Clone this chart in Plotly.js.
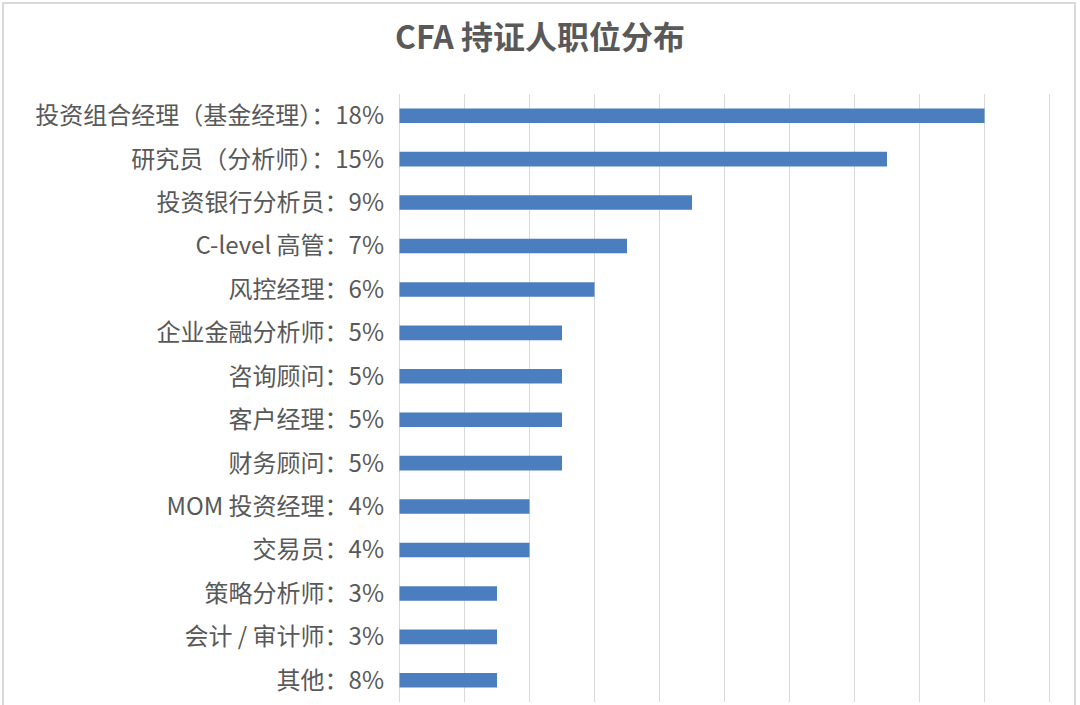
<!DOCTYPE html>
<html>
<head>
<meta charset="utf-8">
<script src="https://cdn.plot.ly/plotly-3.0.1.min.js"></script>
<style>
  body { margin: 0; background: #fff; }
  #frame {
    position: absolute; left: 2px; top: 2px; width: 1074px; height: 720px;
    border: 2px solid #d9d9d9; border-bottom: none; box-sizing: border-box;
  }
  #chart { position: absolute; left: 0; top: 0; width: 1080px; height: 705px; }
</style>
</head>
<body>
<div id="frame"></div>
<div id="chart"></div>
<script>
// job titles of CFA charterholders, label text as printed on the chart
let roles = [
  "投资组合经理（基金经理）：18%",
  "研究员（分析师）：15%",
  "投资银行分析员：9%",
  "C-level 高管：7%",
  "风控经理：6%",
  "企业金融分析师：5%",
  "咨询顾问：5%",
  "客户经理：5%",
  "财务顾问：5%",
  "MOM 投资经理：4%",
  "交易员：4%",
  "策略分析师：3%",
  "会计 / 审计师：3%",
  "其他：8%"
];
// bar lengths as drawn (percent)
let shares = [18, 15, 9, 7, 6, 5, 5, 5, 5, 4, 4, 3, 3, 3];

let font = '"Noto Sans CJK SC", "Noto Sans", sans-serif';

// a little slack on both ends so the 0 and 20 gridlines get drawn
let pad = 0.2;

let layout = {
  width: 1080,
  height: 705,
  margin: { l: 392.5, r: 23.5, t: 94, b: 3, pad: 0 },
  paper_bgcolor: "rgba(0,0,0,0)",
  plot_bgcolor: "rgba(0,0,0,0)",
  showlegend: false,
  title: {
    text: "<b>CFA 持证人职位分布</b>",
    font: { family: font, size: 32, color: "#595959" },
    x: 0.5,
    xanchor: "center",
    y: 0.947,
    yanchor: "middle"
  },
  xaxis: {
    range: [-pad, 20 + pad],
    dtick: 2,
    tick0: 0,
    showgrid: true,
    gridcolor: "#d9d9d9",
    gridwidth: 1.5,
    zeroline: false,
    showticklabels: false,
    showline: false,
    fixedrange: true
  },
  yaxis: {
    type: "category",
    autorange: "reversed",
    showgrid: false,
    zeroline: false,
    showline: false,
    ticks: "",
    ticklabelstandoff: 8,
    tickfont: { family: font, size: 24, color: "#595959" },
    fixedrange: true
  },
  bargap: 0.665
};

Plotly.newPlot("chart", [{
  type: "bar",
  orientation: "h",
  x: shares,
  y: roles,
  marker: { color: "#4a7ebf" },
  hoverinfo: "skip"
}], layout, { staticPlot: true, displayModeBar: false });
</script>
</body>
</html>
